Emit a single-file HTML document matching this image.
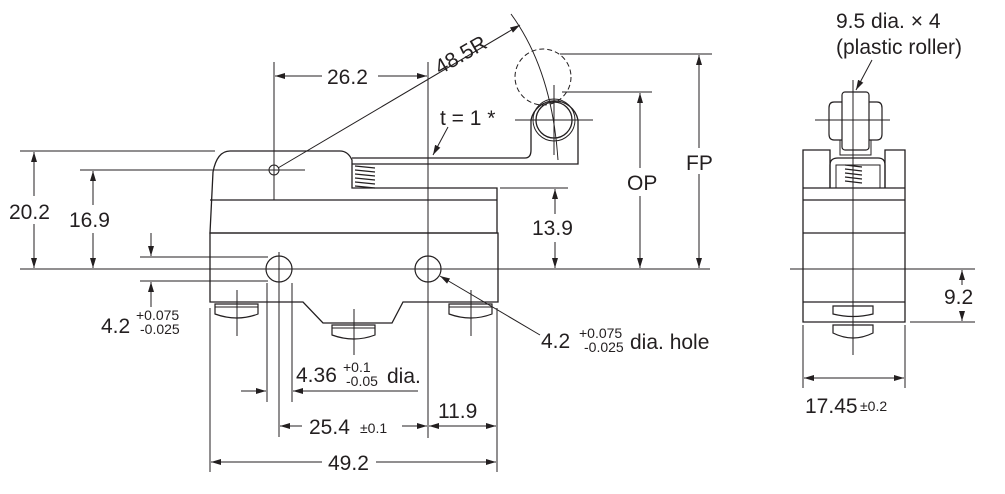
<!DOCTYPE html>
<html><head><style>
html,body{margin:0;padding:0;background:#fff;}
svg{display:block;font-family:"Liberation Sans",Arial,sans-serif;fill:#231f20;}
</style></head><body>
<svg width="1005" height="494" viewBox="0 0 1005 494" xmlns="http://www.w3.org/2000/svg">
<defs>
<marker id="a" viewBox="0 0 10 6" refX="10" refY="3" markerWidth="10" markerHeight="6" orient="auto-start-reverse" markerUnits="userSpaceOnUse"><path d="M0,0 L10,3 L0,6z" fill="#231f20"/></marker>
</defs>
<g stroke="#231f20" fill="none" stroke-width="1">
<line x1="20" y1="269" x2="710" y2="269"/>
<line x1="20" y1="151" x2="215" y2="151"/>
<line x1="80" y1="170" x2="268" y2="170"/>
<line x1="140" y1="257" x2="268" y2="257"/>
<line x1="140" y1="281" x2="268" y2="281"/>
<line x1="428" y1="62" x2="428" y2="438"/>
<line x1="274" y1="62" x2="274" y2="200"/>
<line x1="279" y1="252" x2="279" y2="437"/>
<line x1="267" y1="283" x2="267" y2="402"/>
<line x1="292" y1="283" x2="292" y2="402"/>
<line x1="210" y1="308" x2="210" y2="472"/>
<line x1="497" y1="308" x2="497" y2="472"/>
<line x1="500" y1="188" x2="568" y2="188"/>
<line x1="562" y1="92" x2="652" y2="92"/>
<line x1="560" y1="54" x2="712" y2="54"/>
<line x1="34" y1="152" x2="34" y2="268" marker-start="url(#a)" marker-end="url(#a)"/>
<line x1="93" y1="171" x2="93" y2="268" marker-start="url(#a)" marker-end="url(#a)"/>
<line x1="151" y1="233" x2="151" y2="256" marker-end="url(#a)"/>
<line x1="151" y1="307" x2="151" y2="282" marker-end="url(#a)"/>
<line x1="241" y1="391" x2="266" y2="391" marker-end="url(#a)"/>
<line x1="418" y1="391" x2="293" y2="391" marker-end="url(#a)"/>
<line x1="280" y1="426" x2="427" y2="426" marker-start="url(#a)" marker-end="url(#a)"/>
<line x1="429" y1="426" x2="496" y2="426" marker-start="url(#a)" marker-end="url(#a)"/>
<line x1="211" y1="462" x2="496" y2="462" marker-start="url(#a)" marker-end="url(#a)"/>
<line x1="275" y1="76" x2="427" y2="76" marker-start="url(#a)" marker-end="url(#a)"/>
<line x1="555" y1="189" x2="555" y2="268" marker-start="url(#a)" marker-end="url(#a)"/>
<line x1="640" y1="93" x2="640" y2="268" marker-start="url(#a)" marker-end="url(#a)"/>
<line x1="699" y1="55" x2="699" y2="268" marker-start="url(#a)" marker-end="url(#a)"/>
<line x1="278" y1="168" x2="520" y2="25" marker-end="url(#a)"/>
<path d="M511,14 Q552,70 558,160"/>
<line x1="448" y1="127" x2="433" y2="155" marker-end="url(#a)"/>
<line x1="440" y1="276" x2="540" y2="335" marker-start="url(#a)"/>
<path d="M210,233 L213,172 Q217,151 230,151 L340,151 Q348,151 352,160 L352,188 L497,188 L497,233 Z" stroke-width="1.3"/>
<line x1="210" y1="200" x2="497" y2="200" stroke-width="1.3"/>
<path d="M210,233 L498,233 L498,302 L403,302 L392,323 L323,323 L303,302 L210,302 Z" stroke-width="1.3"/>
<path d="M352,158 L525,158 Q531,158 531,150 L531,120 A24,24 0 0 1 578,120 L578,164 L352,164" stroke-width="1.3"/>
<circle cx="554" cy="120" r="18" stroke-width="1.3"/>
<circle cx="554" cy="120" r="21"/>
<circle cx="543" cy="77" r="28" stroke-dasharray="5,3"/>
<line x1="515" y1="120" x2="593" y2="120"/>
<line x1="554" y1="85" x2="554" y2="155"/>
<path d="M355,166 L375,168 M355,170 L375,172 M355,174 L375,176 M355,178 L375,180 M355,182 L375,184 M355,186 L375,188" stroke-width="1.2"/>
<circle cx="274" cy="170" r="5"/>
<line x1="262" y1="170" x2="305" y2="170"/>
<circle cx="279" cy="269" r="13" stroke-width="1.2"/>
<circle cx="428" cy="269" r="13" stroke-width="1.2"/>
<path d="M215,304 h43 v10 q-21,8 -43,0 z" stroke-width="1.2"/><line x1="215" y1="307" x2="258" y2="307"/><line x1="237" y1="290" x2="237" y2="336"/>
<path d="M332,325 h43 v10 q-21,8 -43,0 z" stroke-width="1.2"/><line x1="332" y1="328" x2="375" y2="328"/><line x1="354" y1="309" x2="354" y2="355"/>
<path d="M449,304 h43 v10 q-21,8 -43,0 z" stroke-width="1.2"/><line x1="449" y1="307" x2="492" y2="307"/><line x1="471" y1="290" x2="471" y2="336"/>
<!-- right view -->
<path d="M830,188 L830,150 L803,150 L803,322 L905,322 L905,150 L885,150 L885,188" stroke-width="1.3"/>
<path d="M830,188 L830,165 Q830,158 838,158 L878,158 Q885,158 885,165 L885,188" stroke-width="1.2"/>
<path d="M836,188 L836,165 L880,165 L880,188"/>
<line x1="803" y1="188" x2="905" y2="188" stroke-width="1.2"/>
<line x1="803" y1="200" x2="905" y2="200" stroke-width="1.2"/>
<line x1="803" y1="233" x2="905" y2="233" stroke-width="1.2"/>
<line x1="803" y1="302" x2="905" y2="302" stroke-width="1.2"/>
<rect x="842" y="92" width="27" height="58" rx="3" stroke-width="1.2"/>
<path d="M842,102 h-8 q-5,0 -5,6 v26 q0,6 5,6 h8 M869,102 h8 q5,0 5,6 v26 q0,6 -5,6 h-8" stroke-width="1.2"/>
<path d="M840,140 v15 h31 v-15"/>
<path d="M845,165 L862,167 M845,169 L862,171 M845,173 L862,175 M845,177 L862,179 M845,181 L862,183" stroke-width="1.2"/>
<line x1="853" y1="80" x2="853" y2="355"/>
<line x1="815" y1="120" x2="890" y2="120"/>
<line x1="790" y1="269" x2="975" y2="269"/>
<line x1="910" y1="322" x2="975" y2="322"/>
<path d="M833,306 h40 v8 q-20,5 -40,0 z M833,325 h40 v8 q-20,10 -40,0 z" stroke-width="1.2"/>
<line x1="962" y1="270" x2="962" y2="321" marker-start="url(#a)" marker-end="url(#a)"/>
<line x1="803" y1="325" x2="803" y2="388"/>
<line x1="905" y1="325" x2="905" y2="388"/>
<line x1="804" y1="378" x2="904" y2="378" marker-start="url(#a)" marker-end="url(#a)"/>
<line x1="872" y1="60" x2="856" y2="90" marker-end="url(#a)"/>
</g>
<g font-size="21" fill="#231f20">
<rect x="322" y="64" width="56" height="24" fill="#fff"/>
<text x="327" y="84">26.2</text>
<text x="440" y="75" transform="rotate(-30 440 75)">48.5R</text>
<text x="440" y="125">t = 1 *</text>
<rect x="5" y="196" width="55" height="28" fill="#fff"/>
<text x="9" y="219">20.2</text>
<rect x="66" y="205" width="55" height="28" fill="#fff"/>
<text x="69" y="227">16.9</text>
<rect x="530" y="214" width="52" height="28" fill="#fff"/>
<text x="532" y="235">13.9</text>
<rect x="626" y="168" width="40" height="28" fill="#fff"/>
<text x="627" y="190">OP</text>
<rect x="686" y="148" width="30" height="26" fill="#fff"/>
<text x="686" y="170">FP</text>
<text x="101" y="333">4.2</text>
<text x="136" y="320" font-size="14">+0.075</text>
<text x="140" y="334" font-size="14">-0.025</text>
<text x="296" y="382">4.36</text>
<text x="343" y="372" font-size="14">+0.1</text>
<text x="346" y="386" font-size="14">-0.05</text>
<text x="387" y="383">dia.</text>
<rect x="302" y="414" width="100" height="24" fill="#fff"/>
<text x="309" y="434">25.4</text>
<text x="360" y="433" font-size="14">±0.1</text>
<text x="438" y="418">11.9</text>
<rect x="322" y="450" width="54" height="24" fill="#fff"/>
<text x="328" y="470">49.2</text>
<text x="541" y="348">4.2</text>
<text x="579" y="338" font-size="14">+0.075</text>
<text x="584" y="352" font-size="14">-0.025</text>
<text x="630" y="349">dia. hole</text>
<text x="836" y="28">9.5 dia. × 4</text>
<text x="836" y="54">(plastic roller)</text>
<rect x="940" y="285" width="42" height="26" fill="#fff"/>
<text x="944" y="304">9.2</text>
<text x="805" y="413">17.45</text>
<text x="860" y="411" font-size="14">±0.2</text>
</g>
</svg>
</body></html>
